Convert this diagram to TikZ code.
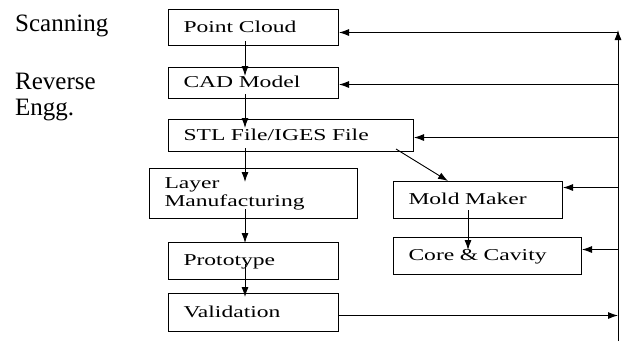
\documentclass[tikz,border=0pt]{standalone}
\usepackage{fontspec}
\setmainfont{Liberation Serif}
\newfontfamily\lblfont{Liberation Serif}
\newfontfamily\boxfont[FakeStretch=1.42]{Liberation Serif}
\usetikzlibrary{arrows.meta}
\begin{document}
\begin{tikzpicture}[x=1pt,y=-1pt,
  box/.style={draw, line width=1pt, rectangle, anchor=north west,
    font=\boxfont\fontsize{16.6}{18}\selectfont, align=left,
    inner xsep=15pt, inner ysep=0pt},
  one/.style={text height=11pt, text depth=2pt},
  arr/.style={-{Latex[length=10pt,width=7pt]}, line width=0.9pt},
  lbl/.style={font=\lblfont\fontsize{25}{28}\selectfont, anchor=base west, inner sep=0pt}]
\useasboundingbox (0,0) rectangle (623,341);
% left labels
\node[lbl] (scan) at (15,31) {Scanning};
\node[lbl] (rev) at (15,89) {Reverse};
\node[lbl] (engg) at (15,115) {Engg.};
% boxes
\node[box, one, minimum width=170pt, minimum height=36pt, text width=140pt] (pc) at (168,9) {Point Cloud};
\node[box, one, minimum width=170pt, minimum height=31pt, text width=140pt] (cad) at (168,67) {CAD Model};
\node[box, one, minimum width=245pt, minimum height=32pt, text width=215pt] (stl) at (168,119) {STL File/IGES File};
\node[box, minimum width=208pt, minimum height=50pt, text width=178pt] (layer) at (149,168) {Layer\\Manufacturing};
\node[box, one, minimum width=170pt, minimum height=37pt, text width=140pt] (proto) at (168,242) {Prototype};
\node[box, one, minimum width=170pt, minimum height=38pt, text width=140pt] (valid) at (168,293) {Validation};
\node[box, one, minimum width=169pt, minimum height=37pt, text width=139pt] (mold) at (393,181) {Mold Maker};
\node[box, one, minimum width=188pt, minimum height=37pt, text width=158pt] (core) at (393,237) {Core \& Cavity};
% helper coordinates
\coordinate (col) at (245,0);
\coordinate (mcol) at (468,0);
\coordinate (bus) at (618,0);
\coordinate (busbot) at (618,341);
\coordinate (bustop) at (618,30);
% left column arrows
\draw[arr] ([yshift=5pt]pc.south -| col) -- ([yshift=-9pt]cad.north -| col);
\draw[arr] ([yshift=5pt]cad.south -| col) -- ([yshift=-9pt]stl.north -| col);
\draw[arr] ([yshift=4pt]stl.south -| col) -- ([yshift=-14pt]layer.north -| col);
\draw[arr] ([yshift=10pt]layer.south -| col) -- ([yshift=-1pt]proto.north -| col);
\draw[arr] ([yshift=16pt]proto.south -| col) -- ([yshift=-4pt]valid.north -| col);
% mold column
\draw[arr] ([yshift=9pt]mold.south -| mcol) -- ([yshift=-13pt]core.north -| mcol);
\draw[arr] ([xshift=-18pt,yshift=3pt]stl.south east) -- ([xshift=55pt]mold.north west);
% feedback bus
\draw[arr] (busbot) -- (bustop);
\draw[arr] ([yshift=-5pt]pc.east -| bus) -- ([yshift=-5pt]pc.east);
\draw[arr] ([yshift=-1.5pt]cad.east -| bus) -- ([yshift=-1.5pt]cad.east);
\draw[arr] ([yshift=-2pt]stl.east -| bus) -- ([yshift=-2pt]stl.east);
\draw[arr] ([yshift=12.5pt]mold.east -| bus) -- ([yshift=12.5pt]mold.east);
\draw[arr] ([yshift=6.5pt]core.east -| bus) -- ([yshift=6.5pt]core.east);
\draw[arr] ([yshift=-3pt]valid.east) -- ([yshift=-3pt]valid.east -| bus);
\end{tikzpicture}
\end{document}
